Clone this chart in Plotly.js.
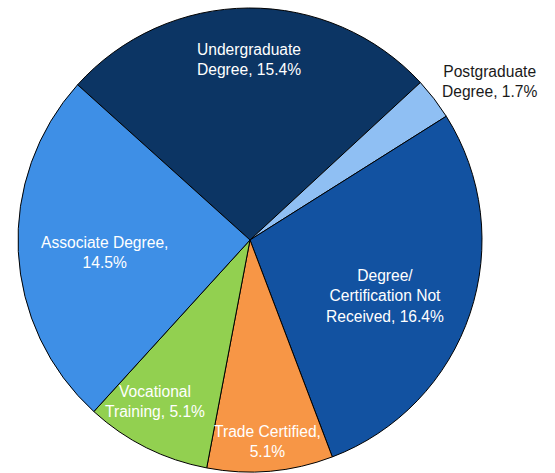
<!DOCTYPE html>
<html>
<head>
<meta charset="utf-8">
<script src="https://cdn.plot.ly/plotly-3.0.1.min.js"></script>
<style>html,body{margin:0;padding:0;background:#fff;}#chart{width:555px;height:473px;}</style>
</head>
<body>
<div id="chart"></div>
<script>
// Data
var labels = ["Undergraduate Degree", "Postgraduate Degree", "Degree/ Certification Not Received", "Trade Certified", "Vocational Training", "Associate Degree"];
var values = [15.4, 1.7, 16.4, 5.1, 5.1, 14.5];
var labelLines = [
  ["Undergraduate", "Degree, 15.4%"],
  ["Postgraduate", "Degree, 1.7%"],
  ["Degree/", "Certification Not", "Received, 16.4%"],
  ["Trade Certified,", "5.1%"],
  ["Vocational", "Training, 5.1%"],
  ["Associate Degree,", "14.5%"]
];

// Styling
var colors = ["#0c3564", "#8fbff3", "#1252a1", "#f79646", "#92d050", "#3e8fe6"];
var textColors = ["#ffffff", "#1a1a1a", "#ffffff", "#ffffff", "#ffffff", "#ffffff"];
var labelRadius = [0.78, 1.24, 0.63, 0.87, 0.81, 0.63];
var labelAngleShift = [0, 4, 4, 0, 4, -2];
var rotation = -48;

var W = 555, H = 473;
var dom = {x: [17 / W, 483 / W], y: [1 / H, 465 / H]};
var cx = (dom.x[0] + dom.x[1]) / 2 * W;
var cy = H - (dom.y[0] + dom.y[1]) / 2 * H;
var R = Math.min((dom.x[1] - dom.x[0]) * W, (dom.y[1] - dom.y[0]) * H) / 2;

var total = values.reduce(function (a, b) { return a + b; }, 0);
var annotations = [];
var cum = 0;
for (var i = 0; i < values.length; i++) {
  var mid = rotation + (cum + values[i] / 2) / total * 360 + labelAngleShift[i];
  cum += values[i];
  var a = mid * Math.PI / 180;
  var px = cx + R * labelRadius[i] * Math.sin(a);
  var py = cy - R * labelRadius[i] * Math.cos(a);
  annotations.push({
    xref: "paper", yref: "paper",
    x: px / W, y: 1 - py / H,
    xanchor: "center", yanchor: "middle",
    text: labelLines[i].join("<br>"),
    showarrow: false,
    align: "center",
    font: {family: "Liberation Sans, Arial, sans-serif", size: 15.6, color: textColors[i]}
  });
}

var trace = {
  type: "pie",
  labels: labels,
  values: values,
  sort: false,
  direction: "clockwise",
  rotation: rotation,
  textinfo: "none",
  hoverinfo: "label+value",
  marker: {colors: colors, line: {color: "#000000", width: 1}},
  domain: dom
};

var layout = {
  width: W, height: H,
  margin: {l: 0, r: 0, t: 0, b: 0},
  showlegend: false,
  paper_bgcolor: "#ffffff",
  annotations: annotations
};

Plotly.newPlot("chart", [trace], layout, {displayModeBar: false, staticPlot: true});
</script>
</body>
</html>
